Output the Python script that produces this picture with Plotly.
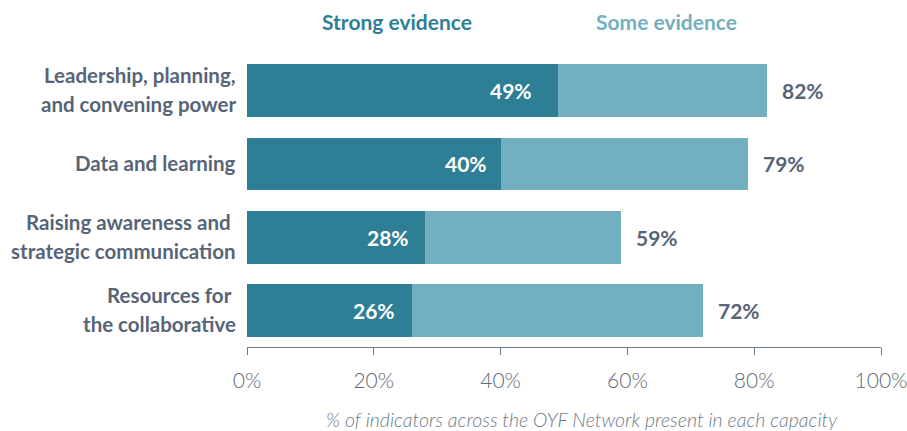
import plotly.graph_objects as go

categories = [
    "Leadership, planning,<br>and convening power",
    "Data and learning",
    "Raising awareness and\u00a0<br>strategic communication",
    "Resources for\u00a0<br>the collaborative",
]
strong = [49, 40, 28, 26]
total = [82, 79, 59, 72]
some = [t - s for t, s in zip(total, strong)]
x_ticks = [0, 20, 40, 60, 80, 100]
x_tick_labels = ["0%", "20%", "40%", "60%", "80%", "100%"]
x_title = "% of indicators across the OYF Network present in each capacity"

DARK = "#2E7F96"
LIGHT = "#72B0BF"
GREY = "#566577"
AXIS_GREY = "#6E7A87"
TICK_GREY = "#5E6A77"
FONT = "Lato"

L, R, T, B = 247, 26, 54, 84
W, H = 907, 431
pw, ph = W - L - R, H - T - B

fig = go.Figure()
fig.add_trace(go.Bar(y=categories, x=strong, orientation="h", marker_color=DARK,
                     marker_line_width=0, name="Strong evidence", hoverinfo="x"))
fig.add_trace(go.Bar(y=categories, x=some, orientation="h", marker_color=LIGHT,
                     marker_line_width=0, name="Some evidence", hoverinfo="x"))

# category labels (drawn per line for tighter control of line spacing)
LINE_GAP = 29
for c in categories:
    lines = c.split("<br>")
    n = len(lines)
    for i, ln in enumerate(lines):
        off = (i - (n - 1) / 2) * LINE_GAP
        fig.add_annotation(x=0, xref="paper", y=c, yref="y", text=ln, showarrow=False,
                           xanchor="right", xshift=-9, yshift=-off + 1,
                           font=dict(family=FONT, size=20.5, color=GREY, weight="bold"))

inner_shift = [-24, -12, -14, -15]
for c, s, sh in zip(categories, strong, inner_shift):
    fig.add_annotation(x=s, y=c, text=f"{s}%", showarrow=False, xanchor="right",
                       xshift=sh, font=dict(family=FONT, size=21, color="white", weight="bold"))
for c, t in zip(categories, total):
    fig.add_annotation(x=t, y=c, text=f"{t}%", showarrow=False, xanchor="left",
                       xshift=13, font=dict(family=FONT, size=21, color=GREY, weight="bold"))

legend_items = [("Strong evidence", DARK, 397), ("Some evidence", LIGHT, 666)]
for txt, col, px in legend_items:
    fig.add_annotation(x=(px - L) / pw, y=1 + (T - 22) / ph, xref="paper", yref="paper",
                       xanchor="center", yanchor="middle", text=txt, showarrow=False,
                       font=dict(family=FONT, size=21, color=col, weight="bold"))

# axis title
fig.add_annotation(x=(582 - L) / pw, y=-(419 - (H - B)) / ph, xref="paper", yref="paper",
                   xanchor="center", yanchor="middle", text=f"<i>{x_title}</i>", showarrow=False,
                   font=dict(family=FONT, size=19.5, color=AXIS_GREY, weight=300))

fig.update_layout(
    barmode="stack",
    bargap=0.28,
    width=W, height=H,
    margin=dict(l=L, r=R, t=T, b=B, autoexpand=False),
    plot_bgcolor="white", paper_bgcolor="white",
    showlegend=False,
    font=dict(family=FONT, color=GREY),
)
fig.update_yaxes(autorange="reversed", showgrid=False, zeroline=False, showline=False,
                 ticks="", showticklabels=False, automargin=False)
fig.update_xaxes(range=[0, 100], tickvals=x_ticks, ticktext=x_tick_labels, automargin=False,
                 showgrid=False, zeroline=False, showline=True, linecolor=AXIS_GREY, linewidth=1.3,
                 ticks="outside", ticklen=7, tickcolor=AXIS_GREY, tickwidth=1.3,
                 ticklabelstandoff=8, ticklabeloverflow="allow",
                 tickfont=dict(family=FONT, size=21, color=TICK_GREY, weight=300))

fig.write_html("out.html", config={"displayModeBar": False},
               post_script="document.body.style.margin='0px';")
